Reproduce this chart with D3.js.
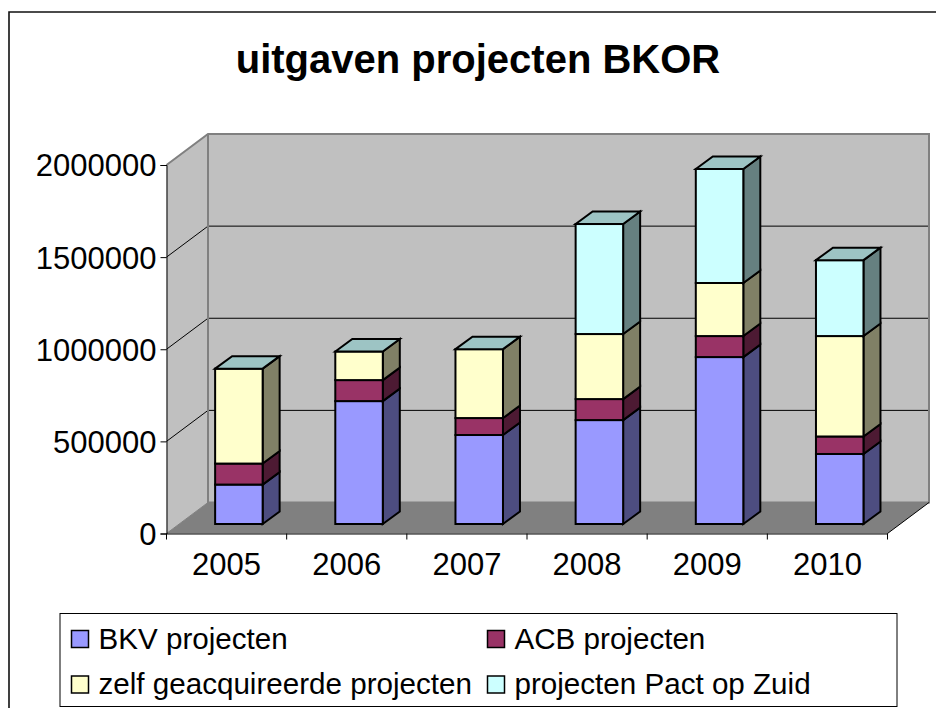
<!DOCTYPE html>
<html>
<head>
<meta charset="utf-8">
<script src="https://cdn.jsdelivr.net/npm/d3@7"></script>
<style>
  html, body { margin: 0; padding: 0; background: #fff; }
  svg { display: block; font-family: "Liberation Sans", Arial, sans-serif; }
</style>
</head>
<body>
<script>
const years = ["2005", "2006", "2007", "2008", "2009", "2010"];
const seriesNames = ["BKV projecten", "ACB projecten", "zelf geacquireerde projecten", "projecten Pact op Zuid"];
const bkv = [214000, 667000, 483000, 564000, 906000, 380000];
const acb = [114000, 114000, 92000, 114000, 114000, 95000];
const zelf = [515000, 155000, 374000, 353000, 288000, 545000];
const pact = [0, 0, 0, 597000, 619000, 412000];
const yTicks = [0, 500000, 1000000, 1500000, 2000000];

const width = 936, height = 708;
const plotLeft = 166.5, plotRight = 887.5, plotBottom = 533.5, plotTop = 165;
const wallDx = 41.5, wallDy = -31; // 3d offset of the back wall
const barDx = 17, barDy = -12.5; // depth of a bar
const barInsetX = 12.3, barInsetY = -9.5; // bars stand a bit into the floor

const frontColors = ["#9999ff", "#993366", "#ffffcc", "#ccffff"];
const sideColors = ["#4d4d80", "#4d1a33", "#808066", "#668080"];

const x = d3.scaleBand().domain(years).range([plotLeft, plotRight]);
const y = d3.scaleLinear().domain([0, 2000000]).range([plotBottom, plotTop]);
const barW = 47.5;

const svg = d3.select("body").append("svg")
    .attr("width", width)
    .attr("height", height)
    .attr("viewBox", [0, 0, width, height]);

// chart frame
svg.append("path")
    .attr("d", `M9,${height}V12H${width}`)
    .attr("fill", "none")
    .attr("stroke", "#111")
    .attr("stroke-width", 1.6);

svg.append("text")
    .attr("x", 478)
    .attr("y", 73)
    .attr("text-anchor", "middle")
    .attr("font-size", 40)
    .attr("font-weight", "bold")
    .text("uitgaven projecten BKOR");

// walls and floor
const pts = a => a.map(p => p.join(",")).join(" ");
const backL = plotLeft + wallDx, backR = plotRight + wallDx;
const backT = plotTop + wallDy, backB = plotBottom + wallDy;
svg.append("polygon")
    .attr("points", pts([[plotLeft, plotTop], [backL, backT], [backL, backB], [plotLeft, plotBottom]]))
    .attr("fill", "#c0c0c0");
svg.append("polygon")
    .attr("points", pts([[backL, backT], [backR, backT], [backR, backB], [backL, backB]]))
    .attr("fill", "#c0c0c0");
svg.append("polygon")
    .attr("points", pts([[plotLeft, plotBottom], [backL, backB], [backR, backB], [plotRight, plotBottom]]))
    .attr("fill", "#808080");

// gridlines, front edge of side wall to back wall
const grid = svg.append("g").attr("fill", "none").attr("stroke", "#000").attr("stroke-width", 1);
yTicks.slice(1, -1).forEach(t => {
    grid.append("path")
        .attr("d", `M${plotLeft},${y(t)}L${backL},${y(t) + wallDy}H${backR}`);
});

// wall outlines
svg.append("path")
    .attr("d", `M${plotLeft},${plotTop}L${backL},${backT}H${backR}V${backB}H${backL}V${backT}`)
    .attr("fill", "none")
    .attr("stroke", "#808080")
    .attr("stroke-width", 2);
svg.append("path")
    .attr("d", `M${plotLeft},${plotBottom}L${backL},${backB}`)
    .attr("fill", "none")
    .attr("stroke", "#808080");
svg.append("path")
    .attr("d", `M${plotRight},${plotBottom}L${backR},${backB}`)
    .attr("fill", "none")
    .attr("stroke", "#000");

// bars
const values = [bkv, acb, zelf, pact];
const bars = svg.append("g")
    .attr("stroke", "#000")
    .attr("stroke-width", 2)
    .attr("stroke-linejoin", "miter");
years.forEach((yr, i) => {
    const x0 = x(yr) + (x.bandwidth() - barW) / 2 + barInsetX;
    const x1 = x0 + barW;
    let acc = 0;
    const g = bars.append("g");
    values.forEach((s, k) => {
        if (!s[i]) return;
        const y0 = y(acc) + barInsetY;
        acc += s[i];
        const y1 = y(acc) + barInsetY;
        g.append("polygon")
            .attr("points", pts([[x1, y0], [x1 + barDx, y0 + barDy], [x1 + barDx, y1 + barDy], [x1, y1]]))
            .attr("fill", sideColors[k]);
        g.append("rect")
            .attr("x", x0)
            .attr("y", y1)
            .attr("width", barW)
            .attr("height", y0 - y1)
            .attr("fill", frontColors[k]);
    });
    const yt = y(acc) + barInsetY;
    g.append("polygon")
        .attr("points", pts([[x0, yt], [x0 + barDx, yt + barDy], [x1 + barDx, yt + barDy], [x1, yt]]))
        .attr("fill", "#9dc4c4");
});

// axes
const yAxis = d3.axisLeft(y).tickValues(yTicks).tickFormat(d3.format("d")).tickSize(6).tickPadding(4);
svg.append("g")
    .attr("transform", `translate(${plotLeft},0)`)
    .call(yAxis)
    .call(g => g.selectAll("text")
        .attr("font-size", 31)
        .attr("font-family", "inherit")
        .attr("fill", "#000")
        .attr("y", 1));

const xAxis = d3.axisBottom(x).tickSize(0).tickPadding(19);
svg.append("g")
    .attr("transform", `translate(0,${plotBottom})`)
    .call(xAxis)
    .call(g => g.selectAll("text").attr("font-size", 31).attr("font-family", "inherit").attr("fill", "#000"))
    .call(g => g.selectAll(".bound")
        .data(years.map(d => x(d)).concat(plotRight))
        .join("line")
        .attr("class", "bound")
        .attr("x1", d => d)
        .attr("x2", d => d)
        .attr("y1", 0)
        .attr("y2", 6)
        .attr("stroke", "#000"));

// legend
const legend = svg.append("g");
legend.append("rect")
    .attr("x", 60).attr("y", 613.5)
    .attr("width", 837).attr("height", 93)
    .attr("fill", "#fff").attr("stroke", "#000");
const legendX = [71.5, 487.5], legendY = [630.5, 676];
seriesNames.forEach((name, k) => {
    const lx = legendX[k % 2], ly = legendY[k >> 1];
    legend.append("rect")
        .attr("x", lx).attr("y", ly)
        .attr("width", 17).attr("height", 17)
        .attr("fill", frontColors[k])
        .attr("stroke", "#000")
        .attr("stroke-width", 1.5);
    legend.append("text")
        .attr("x", lx + 27)
        .attr("y", ly + 18)
        .attr("font-size", 29.6)
        .text(name);
});
</script>
</body>
</html>
